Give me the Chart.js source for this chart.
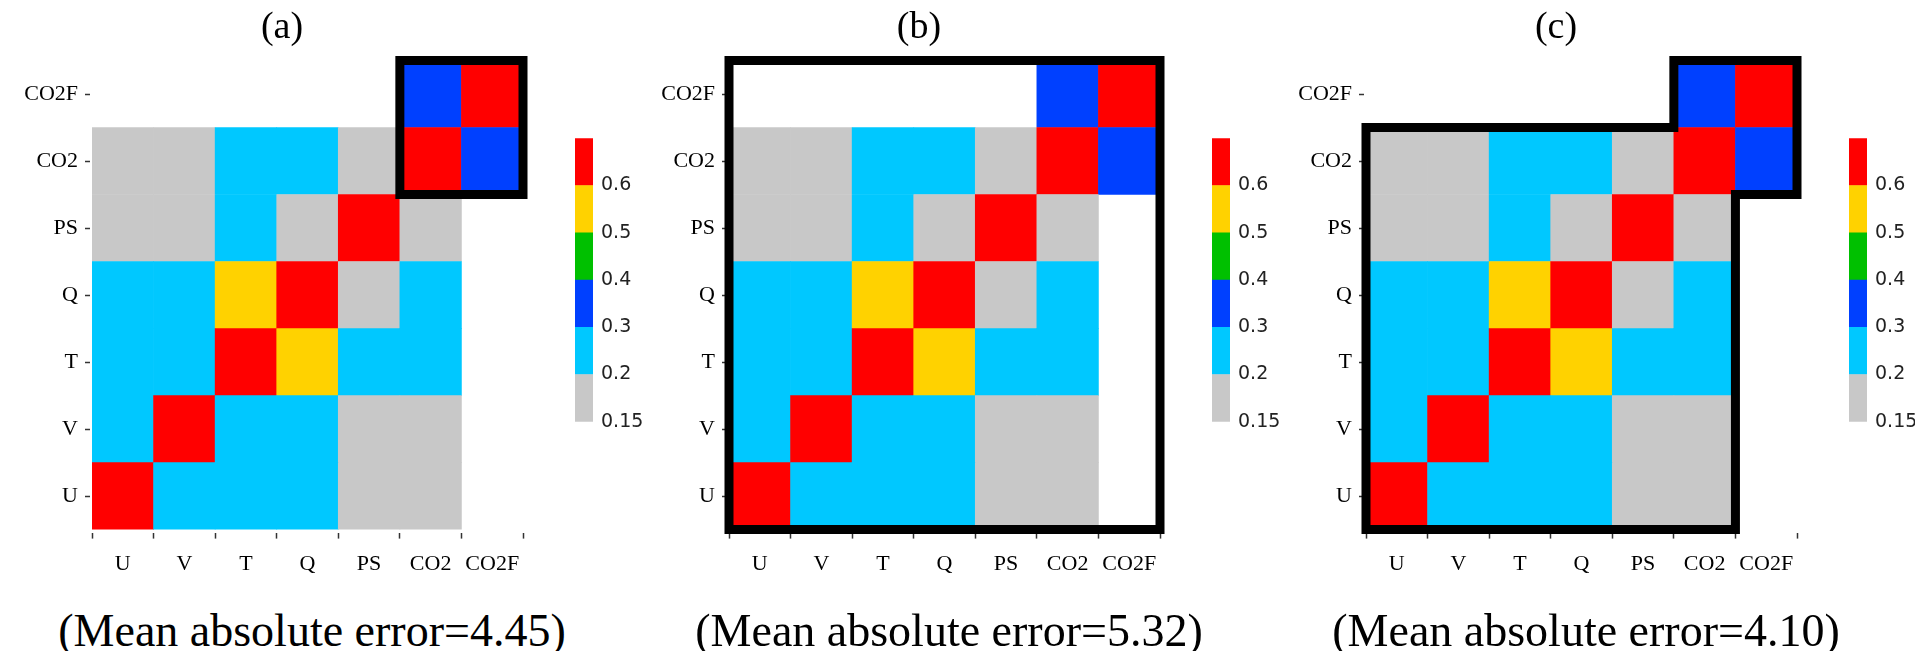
<!DOCTYPE html>
<html>
<head>
<meta charset="utf-8">
<script src="https://cdn.jsdelivr.net/npm/chart.js@4.4.0/dist/chart.umd.min.js"></script>
<style>
html,body{margin:0;padding:0;background:#fff;}
body{width:1915px;height:651px;position:relative;overflow:hidden;}
.panel{position:absolute;top:0;width:637px;height:651px;}
.panel canvas{position:absolute;top:0;}
.title,.caption{position:absolute;font-family:"Liberation Serif","Times New Roman",serif;color:#000;white-space:nowrap;text-align:center;}
.title{font-size:38px;line-height:38px;top:6px;left:182px;width:200px;}
.caption{font-size:46px;line-height:46px;top:608px;left:12px;width:600px;}
</style>
</head>
<body>
<script>
// === DATA ===
const rowLabels = ['U', 'V', 'T', 'Q', 'PS', 'CO2', 'CO2F'];   // y, bottom -> top
const colLabels = ['U', 'V', 'T', 'Q', 'PS', 'CO2', 'CO2F'];   // x, left -> right
// correlation read off the colour bins, null = not drawn
const corr = [
  [1.00, 0.26, 0.24, 0.22, 0.17, 0.18, null],
  [0.26, 1.00, 0.23, 0.25, 0.16, 0.17, null],
  [0.24, 0.23, 1.00, 0.56, 0.22, 0.21, null],
  [0.22, 0.25, 0.56, 1.00, 0.19, 0.24, null],
  [0.17, 0.16, 0.22, 0.19, 1.00, 0.18, null],
  [0.18, 0.17, 0.21, 0.24, 0.18, 1.00, 0.36],
  [null, null, null, null, null, 0.36, 1.00]
];
const levels = [0.15, 0.2, 0.3, 0.4, 0.5, 0.6];
const levelLabels = ['0.15', '0.2', '0.3', '0.4', '0.5', '0.6'];
const levelColors = ['#C8C8C8', '#00C8FF', '#0040FF', '#00C000', '#FFD200', '#FF0000'];
const panelTitles = ['(a)', '(b)', '(c)'];
const maeValues = ['4.45', '5.32', '4.10'];
// highlighted blocks, in cell-boundary units (x index, y index)
const outlines = [
  [[4.5,4.5],[6.5,4.5],[6.5,6.5],[4.5,6.5]],
  [[-0.5,-0.5],[6.5,-0.5],[6.5,6.5],[-0.5,6.5]],
  [[-0.5,-0.5],[5.5,-0.5],[5.5,4.5],[6.5,4.5],[6.5,6.5],[4.5,6.5],[4.5,5.5],[-0.5,5.5]]
];

const SERIF = '"Liberation Serif","Times New Roman",serif';
const SANS = '"DejaVu Sans",Verdana,sans-serif';
const panelLeft = [0, 637, 1274];

function binColor(v) {
  let k = 0;
  for (let i = 0; i < levels.length; i++) if (v >= levels[i]) k = i;
  return levelColors[k];
}

const outlinePlugin = {
  id: 'outline',
  afterDatasetsDraw(chart, args, opts) {
    const pts = opts.path; if (!pts || !pts.length) return;
    const xs = chart.scales.x, ys = chart.scales.y, ctx = chart.ctx;
    ctx.save();
    ctx.beginPath();
    pts.forEach(([cx, cy], k) => {
      const px = xs.getPixelForValue(cx), py = ys.getPixelForValue(cy);
      if (k) ctx.lineTo(px, py); else ctx.moveTo(px, py);
    });
    ctx.closePath();
    ctx.lineWidth = 9; ctx.strokeStyle = '#000'; ctx.lineJoin = 'miter';
    ctx.stroke();
    ctx.restore();
  }
};

function mkCanvas(parent, left, w, h) {
  const c = document.createElement('canvas');
  c.width = w; c.height = h;
  c.style.left = left + 'px'; c.style.width = w + 'px'; c.style.height = h + 'px';
  parent.appendChild(c);
  return c;
}

function mkHeatmap(canvas, path) {
  return new Chart(canvas, {
    type: 'bar',
    data: {
      labels: colLabels,
      datasets: rowLabels.map((r, i) => ({
        label: r,
        data: corr[i].map(v => v == null ? null : [i - 0.5, i + 0.5]),
        backgroundColor: corr[i].map(v => v == null ? 'rgba(0,0,0,0)' : binColor(v)),
        borderWidth: 0, grouped: false, barPercentage: 1, categoryPercentage: 1
      }))
    },
    options: {
      responsive: false, animation: false, events: [],
      layout: {padding: {left: 0, top: 60.5, right: 22, bottom: 0}},
      plugins: {legend: {display: false}, tooltip: {enabled: false}, outline: {path}},
      scales: {
        x: {type: 'category', offset: true,
          grid: {drawOnChartArea: false, tickLength: 9, tickColor: '#333', tickWidth: 1.5,
                 tickBorderDash: [6, 3], tickBorderDashOffset: 6},
          border: {display: false},
          ticks: {color: '#000', font: {family: SERIF, size: 22}, padding: 12, maxRotation: 0, autoSkip: false},
          afterFit: s => { s.height = 70.4; }},
        y: {type: 'linear', min: -0.5, max: 6.5,
          afterBuildTicks: s => { s.ticks = rowLabels.map((_, i) => ({value: i})); },
          grid: {drawOnChartArea: false, tickLength: 7, tickColor: '#333', tickWidth: 1.5, tickBorderDash: [5, 2]},
          border: {display: false},
          ticks: {color: '#000', font: {family: SERIF, size: 22}, padding: 7, callback: v => rowLabels[v]},
          afterFit: s => { s.width = 92; }}
      }
    },
    plugins: [outlinePlugin]
  });
}

function mkColorbar(canvas) {
  return new Chart(canvas, {
    type: 'bar',
    data: {
      labels: [''],
      datasets: levelColors.map((c, i) => ({
        label: levelLabels[i], data: [1], backgroundColor: c,
        borderWidth: 0, barPercentage: 1, categoryPercentage: 1
      }))
    },
    options: {
      responsive: false, animation: false, events: [],
      layout: {padding: {left: 15, top: 138.3, right: 0, bottom: 38.3}},
      plugins: {legend: {display: false}, tooltip: {enabled: false}},
      scales: {
        x: {display: false, stacked: true, offset: true},
        y: {position: 'right', stacked: true, min: 0, max: levels.length,
          afterBuildTicks: s => { s.ticks = levels.map((_, i) => ({value: i})); },
          grid: {display: false}, border: {display: false},
          ticks: {color: '#222', font: {family: SANS, size: 19}, padding: 0, callback: v => levelLabels[v]},
          afterFit: s => { s.width = 77; }}
      }
    }
  });
}

panelTitles.forEach((t, p) => {
  const div = document.createElement('div');
  div.className = 'panel';
  div.style.left = panelLeft[p] + 'px';
  document.body.appendChild(div);
  mkHeatmap(mkCanvas(div, 0, 545, 600), outlines[p]);
  mkColorbar(mkCanvas(div, 560, 110, 460));
  const tt = document.createElement('div');
  tt.className = 'title'; tt.textContent = t; div.appendChild(tt);
  const cp = document.createElement('div');
  cp.className = 'caption'; cp.textContent = '(Mean absolute error=' + maeValues[p] + ')';
  div.appendChild(cp);
});
</script>
</body>
</html>
